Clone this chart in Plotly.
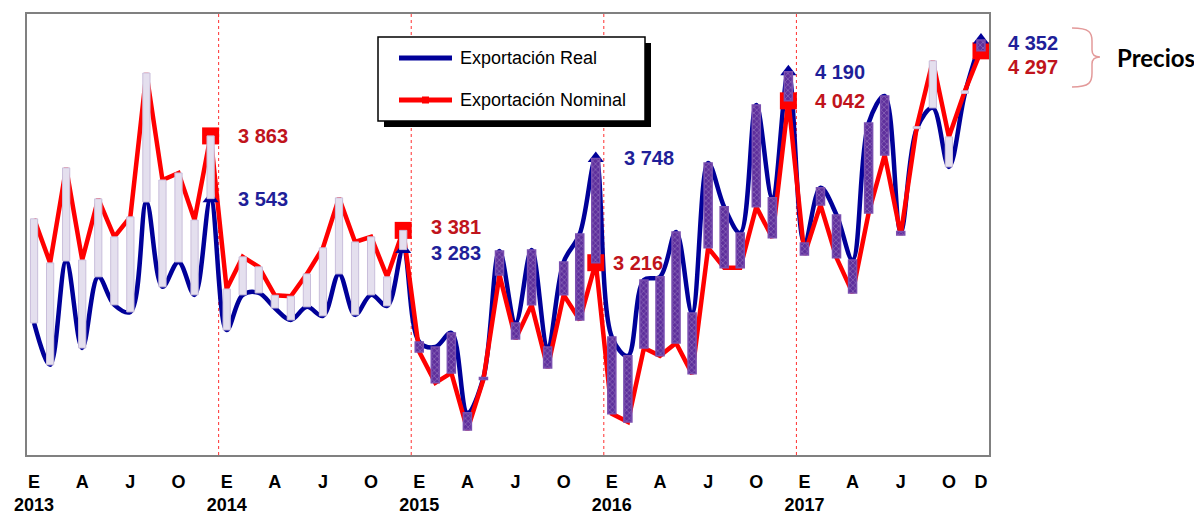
import plotly.graph_objects as go

# ---- data ----
years = ["2013", "2014", "2015", "2016", "2017"]
month_letters = ["E", "F", "M", "A", "M", "J", "J", "A", "S", "O", "N", "D"]

real_2013 = [2909, 2695, 3225, 2781, 3144, 3001, 2965, 3526, 3093, 3220, 3052, 3543]
real_2014 = [2873, 3052, 3062, 2985, 2924, 2991, 2945, 3159, 2950, 3052, 2996, 3283]
real_2015 = [2812, 2786, 2858, 2450, 2630, 3276, 2909, 3281, 2786, 3220, 3363, 3748]
real_2016 = [2837, 2741, 3128, 3144, 3373, 2960, 3725, 3501, 3368, 4021, 3547, 4190]
real_2017 = [3317, 3598, 3460, 3230, 3929, 4067, 3375, 3900, 4006, 3705, 4080, 4352]

nom_2013 = [3440, 3215, 3700, 3230, 3542, 3348, 3450, 4184, 3638, 3674, 3434, 3863]
nom_2014 = [3082, 3246, 3195, 3050, 3045, 3159, 3292, 3547, 3322, 3348, 3144, 3381]
nom_2015 = [2761, 2603, 2654, 2363, 2620, 3154, 2827, 3001, 2679, 3052, 2924, 3216]
nom_2016 = [2445, 2404, 2781, 2741, 2807, 2649, 3292, 3190, 3190, 3501, 3343, 4042]
nom_2017 = [3256, 3511, 3241, 3062, 3470, 3766, 3358, 3910, 4246, 3858, 4093, 4297]

real = real_2013 + real_2014 + real_2015 + real_2016 + real_2017
nominal = nom_2013 + nom_2014 + nom_2015 + nom_2016 + nom_2017
x = list(range(len(real)))

tick_idx = [0, 3, 6, 9]
tick_letters = ["E", "A", "J", "O"]

# ---- layout geometry (the page adds an ~8px body margin) ----
OFF = 8
W, H = 1202 - OFF, 514 - OFF
L, R, T, B = 27 - OFF, 213, 14 - OFF, 59
PW, PH = W - L - R, H - T - B


def px(v):
    # v: pixel x in the reference picture
    return (v - OFF - L) / PW


def py(v):
    return (H - B - (v - OFF)) / PH


BLUE = "#000099"
RED = "#ff0000"
LBL_RED = "#c0141c"
LBL_BLUE = "#1f1f99"

fig = go.Figure()

# lines
fig.add_trace(go.Scatter(x=x, y=real, mode="lines", name="Exportación Real",
                         line=dict(color=BLUE, width=4.5, shape="spline", smoothing=1.0),
                         showlegend=False))
fig.add_trace(go.Scatter(x=x, y=nominal, mode="lines", name="Exportación Nominal",
                         line=dict(color=RED, width=4.5), showlegend=False))

# December markers
dec = [i for i in x if i % 12 == 11]
fig.add_trace(go.Scatter(x=dec, y=[nominal[i] for i in dec], mode="markers",
                         marker=dict(symbol="square", size=17, color=RED),
                         showlegend=False, hoverinfo="skip"))
fig.add_trace(go.Scatter(x=dec, y=[real[i] for i in dec], mode="markers",
                         marker=dict(symbol="triangle-up", size=14, color=BLUE),
                         showlegend=False, hoverinfo="skip"))

# bars between the two series (drawn on an overlaid axis pair so they sit on top)
light_base, light_h, hatch_base, hatch_h = [], [], [], []
for r, n in zip(real, nominal):
    if n >= r:
        light_base.append(r); light_h.append(n - r)
        hatch_base.append(None); hatch_h.append(None)
    else:
        hatch_base.append(n); hatch_h.append(r - n)
        light_base.append(None); light_h.append(None)

fig.add_trace(go.Bar(x=x, y=light_h, base=light_base, width=0.45,
                     marker=dict(color="#e4dfee", line=dict(color="#c9bedb", width=1)),
                     xaxis="x2", yaxis="y2", showlegend=False, hoverinfo="skip"))
fig.add_trace(go.Bar(x=x, y=hatch_h, base=hatch_base, width=0.5,
                     marker=dict(color="#5e2f9c", line=dict(color="#7a4fb0", width=1.5),
                                 pattern=dict(shape="x", fgcolor="white", bgcolor="#5e2f9c",
                                              size=4, solidity=0.2)),
                     xaxis="x2", yaxis="y2", showlegend=False, hoverinfo="skip"))

# ticks
tickvals, ticktext = [], []
for yi, yr in enumerate(years):
    for k, m in zip(tick_idx, tick_letters):
        tickvals.append(yi * 12 + k)
        ticktext.append(f"{m}<br>{yr}" if m == "E" else m)
tickvals.append(len(x) - 1)
ticktext.append(month_letters[-1])

XR = [-0.44, len(x) - 0.5]
YR = [2235, 4485]

shapes = []
# year separators
for yi in range(1, len(years)):
    shapes.append(dict(type="line", xref="x", yref="paper", x0=yi * 12 - 0.5, x1=yi * 12 - 0.5,
                       y0=0, y1=1, line=dict(color="#ff3030", width=1, dash="dot"), layer="below"))
# legend box with shadow
shapes.append(dict(type="rect", xref="paper", yref="paper", x0=px(384), x1=px(651), y0=py(127), y1=py(43),
                   fillcolor="black", line=dict(width=0), layer="above"))
shapes.append(dict(type="rect", xref="paper", yref="paper", x0=px(378), x1=px(645), y0=py(121), y1=py(37),
                   fillcolor="white", line=dict(color="black", width=1.5), layer="above"))
shapes.append(dict(type="line", xref="paper", yref="paper", x0=px(399), x1=px(452), y0=py(58), y1=py(58),
                   line=dict(color=BLUE, width=5), layer="above"))
shapes.append(dict(type="line", xref="paper", yref="paper", x0=px(399), x1=px(452), y0=py(100), y1=py(100),
                   line=dict(color=RED, width=5), layer="above"))
shapes.append(dict(type="rect", xref="paper", yref="paper", x0=px(422), x1=px(429), y0=py(103.5), y1=py(96.5),
                   fillcolor=RED, line=dict(width=0), layer="above"))
# brace next to the final labels
bp = [(1072, 28), (1090, 28), (1092, 33), (1092, 41), (1092, 50), (1092, 55), (1095, 57), (1100, 57),
      (1095, 57), (1092, 59), (1092, 64), (1092, 73), (1092, 82), (1090, 87), (1072, 87)]
def P(p):
    return f"{px(p[0]):.5f},{py(p[1]):.5f}"
path = (f"M {P(bp[0])} C {P(bp[1])} {P(bp[2])} {P(bp[3])} L {P(bp[4])} C {P(bp[5])} {P(bp[6])} {P(bp[7])} "
        f"C {P(bp[8])} {P(bp[9])} {P(bp[10])} L {P(bp[11])} C {P(bp[12])} {P(bp[13])} {P(bp[14])}")
shapes.append(dict(type="path", xref="paper", yref="paper", path=path,
                   line=dict(color="#e39a9a", width=1.5), layer="above"))


def fmt(v):
    return f"{v:,}".replace(",", " ")


LFONT = "Liberation Sans, Arial, sans-serif"
annotations = []
# value labels: (index, series, color, xshift, yshift)
label_specs = [
    (11, nominal, LBL_RED, 25, 0), (11, real, LBL_BLUE, 25, 0),
    (23, nominal, LBL_RED, 26, 3), (23, real, LBL_BLUE, 26, -3),
    (35, real, LBL_BLUE, 26, 0), (35, nominal, LBL_RED, 15, 0),
    (47, real, LBL_BLUE, 25, 0), (47, nominal, LBL_RED, 25, 0),
    (59, real, LBL_BLUE, 25, -3), (59, nominal, LBL_RED, 25, -16),
]
for i, ser, col, xs, ys in label_specs:
    annotations.append(dict(x=i, y=ser[i], xref="x", yref="y", text=f"<b>{fmt(ser[i])}</b>",
                            showarrow=False, xanchor="left", yanchor="middle", xshift=xs, yshift=ys,
                            font=dict(family=LFONT, size=20, color=col)))
annotations.append(dict(x=px(1115), y=py(57), xref="paper", yref="paper", text="<b>Precios</b>",
                        showarrow=False, xanchor="left", yanchor="middle",
                        font=dict(family="Lato, Open Sans, sans-serif", size=24, color="black")))
annotations.append(dict(x=px(458), y=py(58), xref="paper", yref="paper", text="Exportación Real",
                        showarrow=False, xanchor="left", yanchor="middle",
                        font=dict(family=LFONT, size=18, color="black")))
annotations.append(dict(x=px(458), y=py(100), xref="paper", yref="paper", text="Exportación Nominal",
                        showarrow=False, xanchor="left", yanchor="middle",
                        font=dict(family=LFONT, size=18, color="black")))

fig.update_layout(
    width=W, height=H,
    margin=dict(l=L, r=R, t=T, b=B, autoexpand=False),
    paper_bgcolor="white", plot_bgcolor="white",
    barmode="overlay",
    xaxis=dict(range=XR, tickvals=tickvals, ticktext=ticktext, showgrid=False, zeroline=False,
               showline=True, mirror=True, linecolor="#808080", linewidth=2, automargin=False,
               ticks="", ticklabelstandoff=9, tickangle=0,
               tickfont=dict(family=LFONT, size=18, color="black", weight="bold")),
    yaxis=dict(range=YR, showticklabels=False, showgrid=False, zeroline=False, automargin=False,
               showline=True, mirror=True, linecolor="#808080", linewidth=2, ticks=""),
    xaxis2=dict(range=XR, overlaying="x", visible=False),
    yaxis2=dict(range=YR, overlaying="y", visible=False),
    shapes=shapes,
    annotations=annotations,
    showlegend=False,
)

fig.write_html("out.html")
